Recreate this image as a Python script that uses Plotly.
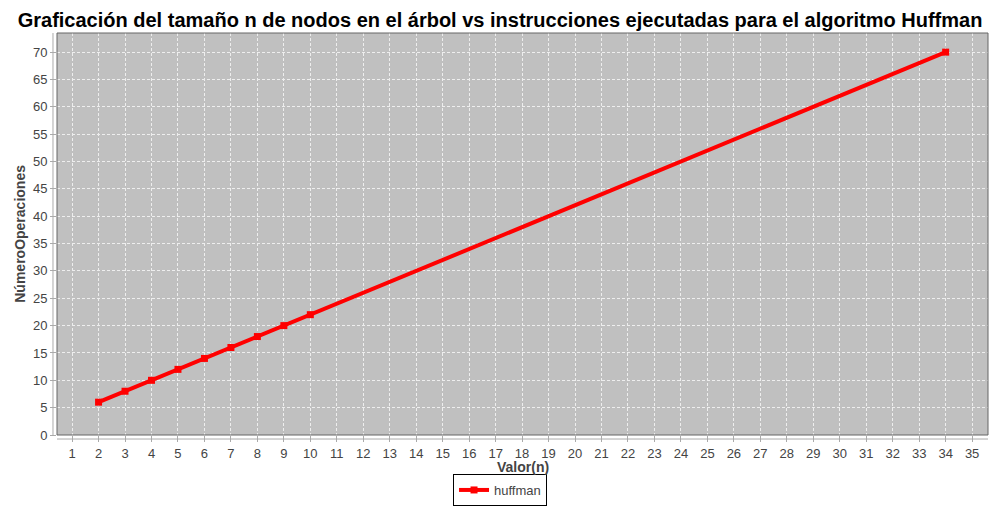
import plotly.graph_objects as go

# tamaño n de nodos y numero de instrucciones
n_values = [2, 3, 4, 5, 6, 7, 8, 9, 10, 34]
operaciones = [6, 8, 10, 12, 14, 16, 18, 20, 22, 70]

x_ticks = list(range(1, 36))
y_ticks = list(range(0, 71, 5))

fig = go.Figure()
fig.add_trace(go.Scatter(
    x=n_values, y=operaciones, name="huffman",
    mode="lines+markers",
    line=dict(color="#ff0000", width=4),
    marker=dict(symbol="square", size=7, color="#ff0000"),
))

axis_font = dict(family="Liberation Sans, Arial, sans-serif", size=13, color="#444444")
label_font = dict(family="Liberation Sans, Arial, sans-serif", size=14, color="#444444")

# la pagina tiene 8px de margen en el body, por eso 992x499
fig.update_layout(
    width=992, height=499,
    margin=dict(l=49, r=12, t=25, b=72, autoexpand=False),
    paper_bgcolor="white",
    plot_bgcolor="#c0c0c0",
    font=dict(family="Liberation Sans, Arial, sans-serif"),
    title=dict(
        text="<b>Graficación del tamaño n de nodos en el árbol vs instrucciones ejecutadas para el algoritmo Huffman</b>",
        x=0.496, xanchor="center", xref="container",
        y=1 - 12 / 499, yanchor="middle", yref="container",
        font=dict(size=20, color="black"),
    ),
    showlegend=True,
    legend=dict(
        orientation="h", x=0.496, xanchor="center", xref="container",
        y=0.002, yanchor="bottom", yref="container",
        bordercolor="black", borderwidth=1, bgcolor="white",
        font=dict(size=13, color="#444444"),
        itemwidth=30,
    ),
    xaxis=dict(
        range=[0.43, 35.6], tickvals=x_ticks, automargin=False,
        showgrid=True, gridcolor="#eeeeee", griddash="3px,2px", gridwidth=1,
        zeroline=False, showline=False,
        ticks="outside", ticklen=6, tickcolor="#aaaaaa",
        tickfont=axis_font,
    ),
    yaxis=dict(
        range=[0, 73.5], tickvals=y_ticks, automargin=False,
        showgrid=True, gridcolor="#eeeeee", griddash="3px,2px", gridwidth=1,
        zeroline=False, showline=False,
        ticks="outside", ticklen=6, tickcolor="#aaaaaa",
        tickfont=axis_font,
    ),
)

# titulos de los ejes
fig.add_annotation(text="<b>Valor(n)</b>", xref="paper", yref="paper", x=0.5, y=-0.08,
                   xanchor="center", yanchor="middle", showarrow=False, font=label_font)
fig.add_annotation(text="<b>NúmeroOperaciones</b>", xref="paper", yref="paper", x=-0.04, y=0.5,
                   xanchor="center", yanchor="middle", showarrow=False, textangle=-90, font=label_font)

# borde del area de trazado
fig.add_shape(type="rect", xref="paper", yref="paper", x0=0, y0=0, x1=1, y1=1,
              line=dict(color="#666666", width=1))
# lineas de eje separadas del area (estilo JFreeChart)
fig.add_shape(type="line", xref="paper", yref="paper", x0=-0.0043, x1=-0.0043, y0=-0.002, y1=1,
              line=dict(color="#aaaaaa", width=1))
fig.add_shape(type="line", xref="paper", yref="paper", x0=0, x1=1, y0=-0.01, y1=-0.01,
              line=dict(color="#aaaaaa", width=1))

fig.write_html("out.html")
